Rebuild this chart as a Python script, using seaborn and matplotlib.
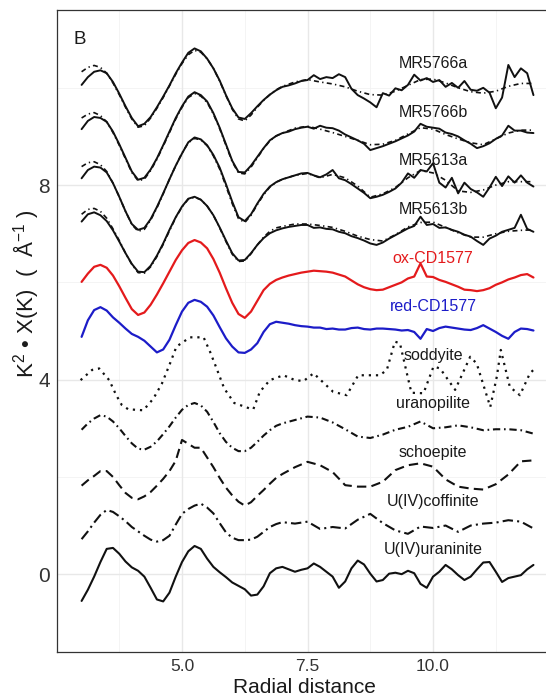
import numpy as np
import pandas as pd
import seaborn as sns
import matplotlib.pyplot as plt

# Radial distance grid for the smooth curves (fits and reference spectra)
k = [3.0, 3.125, 3.25, 3.375, 3.5, 3.625, 3.75, 3.875, 4.0, 4.125, 4.25, 4.375, 4.5,
     4.625, 4.75, 4.875, 5.0, 5.125, 5.25, 5.375, 5.5, 5.625, 5.75, 5.875, 6.0, 6.125,
     6.25, 6.375, 6.5, 6.625, 6.75, 6.875, 7.0,
     7.25, 7.5, 7.75, 8.0, 8.25, 8.5, 8.75, 9.0, 9.25, 9.5, 9.75, 10.0, 10.25, 10.5,
     10.75, 11.0, 11.25, 11.5, 11.75, 12.0]
# finer grid for the noisy measured spectra
k_fine = np.linspace(3.0, 12.0, 73)

mr5766a = [10.06, 10.22, 10.33, 10.36, 10.30, 10.12, 9.88, 9.62, 9.38, 9.21, 9.26, 9.40, 9.60,
           9.82, 10.05, 10.30, 10.52, 10.72, 10.81, 10.75, 10.60, 10.40, 10.15, 9.85, 9.58,
           9.39, 9.36, 9.48, 9.62, 9.75, 9.86, 9.95, 10.02,
           10.05, 10.09, 10.14, 10.16, 10.26, 10.18, 10.22, 10.20, 10.28, 10.22, 9.98, 9.85,
           9.78, 9.70, 9.60, 9.89, 9.84, 9.99, 9.95, 10.06, 10.27, 10.15, 10.20, 10.12,
           10.16, 10.02, 10.10, 10.00, 10.14, 9.96, 9.94, 10.00, 9.90, 9.58, 9.80, 10.47,
           10.22, 10.40, 10.30, 9.85]
fit5766a = [10.33, 10.42, 10.46, 10.42, 10.30, 10.10, 9.86, 9.60, 9.36, 9.19, 9.22, 9.38, 9.58,
            9.80, 10.04, 10.28, 10.50, 10.68, 10.77, 10.73, 10.60, 10.40, 10.14, 9.84, 9.56,
            9.36, 9.32, 9.44, 9.60, 9.74, 9.86, 9.96, 10.03,
            10.12, 10.17, 10.12, 10.08, 10.02, 9.93, 9.86, 9.85, 9.93, 10.05, 10.17, 10.18,
            10.10, 10.00, 9.92, 9.89, 9.93, 10.03, 10.09, 10.09]
mr5766b = [9.15, 9.32, 9.40, 9.38, 9.30, 9.10, 8.84, 8.56, 8.28, 8.11, 8.15, 8.32, 8.55,
           8.82, 9.10, 9.38, 9.62, 9.82, 9.91, 9.85, 9.72, 9.48, 9.18, 8.84, 8.50, 8.27,
           8.26, 8.40, 8.58, 8.76, 8.92, 9.01, 9.07,
           9.10, 9.15, 9.18, 9.20, 9.16, 9.22, 9.18, 9.17, 9.12, 9.04, 8.98, 8.92, 8.85,
           8.72, 8.76, 8.80, 8.85, 8.90, 8.96, 9.02, 9.10, 9.26, 9.20, 9.18, 9.16, 9.08,
           9.05, 9.00, 8.92, 8.85, 8.76, 8.80, 8.86, 8.95, 9.02, 9.22, 9.12, 9.12, 9.08, 9.07]
fit5766b = [9.38, 9.46, 9.49, 9.43, 9.30, 9.08, 8.82, 8.54, 8.26, 8.09, 8.12, 8.30, 8.53,
            8.80, 9.08, 9.36, 9.60, 9.80, 9.88, 9.83, 9.70, 9.46, 9.16, 8.82, 8.48, 8.25,
            8.23, 8.37, 8.56, 8.75, 8.91, 9.01, 9.07,
            9.17, 9.21, 9.15, 9.08, 9.00, 8.92, 8.83, 8.84, 8.92, 9.05, 9.18, 9.15, 9.04,
            8.95, 8.87, 8.83, 8.95, 9.07, 9.13, 9.13]
mr5613a = [8.14, 8.31, 8.38, 8.36, 8.26, 8.04, 7.76, 7.46, 7.20, 7.08, 7.12, 7.30, 7.55,
           7.83, 8.12, 8.40, 8.65, 8.88, 8.98, 8.94, 8.82, 8.62, 8.36, 8.02, 7.66, 7.34,
           7.26, 7.40, 7.62, 7.82, 7.97, 8.06, 8.12,
           8.16, 8.20, 8.24, 8.25, 8.20, 8.16, 8.22, 8.31, 8.14, 8.10, 8.02, 7.93, 7.84,
           7.73, 7.76, 7.80, 7.86, 7.93, 8.05, 8.24, 8.15, 8.31, 8.28, 8.45, 8.05, 7.95,
           8.15, 7.83, 8.05, 7.92, 7.85, 7.76, 7.95, 8.17, 7.98, 8.18, 8.05, 8.20, 8.05, 7.97]
fit5613a = [8.38, 8.46, 8.48, 8.42, 8.28, 8.04, 7.76, 7.46, 7.19, 7.05, 7.09, 7.28, 7.53,
            7.82, 8.12, 8.40, 8.66, 8.87, 8.96, 8.93, 8.81, 8.60, 8.33, 7.98, 7.62, 7.31,
            7.23, 7.38, 7.60, 7.80, 7.96, 8.06, 8.12,
            8.20, 8.24, 8.15, 8.22, 8.15, 7.98, 7.75, 7.82, 7.95, 8.15, 8.30, 8.25, 8.10,
            7.88, 7.85, 7.90, 8.00, 8.07, 8.07, 8.07]
mr5613b = [7.25, 7.40, 7.44, 7.38, 7.26, 7.07, 6.84, 6.60, 6.38, 6.22, 6.21, 6.34, 6.55,
           6.80, 7.08, 7.34, 7.56, 7.72, 7.76, 7.70, 7.57, 7.38, 7.13, 6.86, 6.60, 6.45,
           6.46, 6.60, 6.77, 6.91, 7.01, 7.07, 7.11,
           7.14, 7.16, 7.18, 7.18, 7.12, 7.13, 7.10, 7.09, 7.04, 7.01, 6.95, 6.91, 6.86,
           6.80, 6.77, 6.82, 6.90, 6.97, 7.04, 7.11, 7.16, 7.35, 7.18, 7.20, 7.12, 7.13,
           7.08, 7.04, 6.98, 6.94, 6.85, 6.77, 6.90, 6.96, 7.04, 7.08, 7.12, 7.39, 7.10, 7.04]
fit5613b = [7.40, 7.50, 7.52, 7.46, 7.32, 7.10, 6.86, 6.60, 6.37, 6.20, 6.19, 6.32, 6.53,
            6.78, 7.06, 7.33, 7.55, 7.71, 7.75, 7.70, 7.57, 7.38, 7.12, 6.84, 6.58, 6.43,
            6.44, 6.59, 6.77, 6.93, 7.05, 7.12, 7.15,
            7.20, 7.20, 7.17, 7.13, 7.05, 6.95, 6.88, 6.85, 6.98, 7.14, 7.23, 7.24, 7.13,
            7.02, 6.93, 6.93, 7.00, 7.05, 7.07, 7.08]
ox_cd1577 = [6.01, 6.18, 6.32, 6.36, 6.30, 6.14, 5.92, 5.68, 5.45, 5.33, 5.38, 5.54, 5.75,
             5.98, 6.22, 6.46, 6.66, 6.81, 6.87, 6.82, 6.70, 6.48, 6.20, 5.88, 5.58, 5.35,
             5.27, 5.40, 5.62, 5.84, 5.97, 6.05, 6.10,
             6.14, 6.17, 6.20, 6.22, 6.24, 6.23, 6.22, 6.20, 6.16, 6.12, 6.04, 5.96, 5.90,
             5.86, 5.84, 5.85, 5.90, 5.95, 6.00, 6.08, 6.12, 6.39, 6.12, 6.11, 6.05, 6.01,
             5.96, 5.91, 5.85, 5.84, 5.82, 5.84, 5.88, 5.95, 6.00, 6.06, 6.10, 6.15, 6.17, 6.10]
red_cd1577 = [4.88, 5.22, 5.43, 5.49, 5.42, 5.28, 5.17, 5.05, 4.94, 4.88, 4.80, 4.68, 4.56,
              4.62, 4.82, 5.12, 5.40, 5.58, 5.64, 5.60, 5.50, 5.32, 5.08, 4.85, 4.68, 4.56,
              4.55, 4.62, 4.75, 4.98, 5.14, 5.19, 5.17,
              5.15, 5.12, 5.10, 5.09, 5.07, 5.07, 5.04, 5.05, 5.03, 5.03, 5.06, 5.07, 5.04,
              5.03, 5.05, 5.05, 5.04, 5.03, 5.01, 5.02, 4.98, 4.84, 5.04, 5.00, 5.06, 5.09,
              5.07, 5.05, 5.03, 5.02, 5.06, 5.12, 5.05, 4.98, 4.90, 4.84, 4.98, 5.05, 5.04, 5.01]

# soddyite oscillates faster, read at its own points
k_soddyite = [2.98, 3.21, 3.35, 3.55, 3.69, 3.80, 3.93, 4.23, 4.43, 4.60, 4.76, 4.89, 5.16,
              5.43, 5.56, 5.70, 5.84, 6.04, 6.34, 6.42, 6.55, 6.75, 7.02, 7.25, 7.42, 7.62,
              8.01, 8.28, 8.51, 8.94, 9.08, 9.24, 9.34, 9.51, 9.57, 9.81, 10.01, 10.14,
              10.44, 10.74, 10.87, 11.14, 11.27, 11.35, 11.53, 11.73, 11.93, 12.0]
soddyite = [3.99, 4.20, 4.23, 3.99, 3.68, 3.48, 3.39, 3.37, 3.61, 3.92, 4.33, 4.68, 4.87,
            4.87, 4.57, 4.20, 3.82, 3.52, 3.41, 3.39, 3.75, 3.99, 4.09, 3.99, 3.97, 4.13,
            3.75, 3.68, 4.09, 4.09, 4.20, 4.78, 4.75, 3.99, 3.73, 3.72, 4.27, 4.23,
            3.79, 4.47, 4.33, 3.44, 4.06, 4.61, 3.85, 3.68, 4.13, 4.20]

uranopilite = [2.97, 3.10, 3.20, 3.27, 3.24, 3.14, 3.00, 2.84, 2.69, 2.58, 2.56, 2.62, 2.73,
               2.88, 3.04, 3.22, 3.38, 3.48, 3.52, 3.47, 3.34, 3.13, 2.90, 2.72, 2.60, 2.53,
               2.53, 2.60, 2.72, 2.85, 2.96, 3.05, 3.10,
               3.17, 3.24, 3.22, 3.12, 2.98, 2.83, 2.80, 2.87, 2.97, 3.03, 3.14, 3.00, 3.02,
               3.06, 3.02, 2.96, 2.98, 2.98, 2.96, 2.89]
schoepite = [1.82, 1.93, 2.02, 2.12, 2.12, 2.00, 1.83, 1.67, 1.57, 1.54, 1.60, 1.69, 1.82,
             1.96, 2.12, 2.33, 2.76, 2.68, 2.60, 2.60, 2.40, 2.20, 1.98, 1.78, 1.62, 1.49,
             1.41, 1.48, 1.61, 1.73, 1.86, 1.98, 2.06,
             2.20, 2.31, 2.24, 2.10, 1.83, 1.80, 1.80, 1.90, 2.14, 2.24, 2.28, 2.21, 1.95,
             1.80, 1.76, 1.74, 1.85, 2.05, 2.32, 2.34]
coffinite = [0.72, 0.88, 1.06, 1.22, 1.32, 1.28, 1.19, 1.09, 0.97, 0.88, 0.79, 0.71, 0.67,
             0.70, 0.79, 1.02, 1.24, 1.34, 1.41, 1.45, 1.37, 1.25, 1.05, 0.86, 0.75, 0.70,
             0.70, 0.71, 0.77, 0.87, 0.97, 1.03, 1.07,
             1.04, 1.08, 0.93, 0.97, 0.94, 1.12, 1.24, 1.05, 0.90, 0.83, 0.98, 0.95, 1.00,
             0.87, 1.00, 1.04, 1.06, 1.11, 1.08, 0.94]
uraninite = [-0.55, -0.32, -0.05, 0.25, 0.52, 0.54, 0.42, 0.26, 0.14, 0.07, -0.05, -0.28, -0.52,
             -0.56, -0.38, -0.05, 0.25, 0.47, 0.58, 0.52, 0.32, 0.15, 0.04, -0.06, -0.17, -0.24,
             -0.31, -0.44, -0.42, -0.25, 0.02, 0.12, 0.15,
             0.10, 0.05, 0.09, 0.12, 0.22, 0.15, 0.05, -0.05, -0.28, -0.15, 0.12, 0.28, 0.20,
             0.01, -0.15, -0.12, 0.01, 0.03, 0.00, 0.07, 0.02, -0.20, -0.28, -0.05, 0.05, 0.19,
             0.10, -0.02, -0.12, -0.05, 0.10, 0.24, 0.25, 0.05, -0.16, -0.08, -0.05, -0.02,
             0.10, 0.19]

labels = ["MR5766a", "MR5766b", "MR5613a", "MR5613b", "ox-CD1577", "red-CD1577",
          "soddyite", "uranopilite", "schoepite", "U(IV)coffinite", "U(IV)uraninite"]

fit_ls = (0, (3, 2, 0.8, 2))
# (x, y, colour, linestyle, width)
curves = [
    (k_fine, mr5766a, "#111111", "-", 1.4), (k, fit5766a, "#111111", fit_ls, 1.2),
    (k_fine, mr5766b, "#111111", "-", 1.4), (k, fit5766b, "#111111", fit_ls, 1.2),
    (k_fine, mr5613a, "#111111", "-", 1.4), (k, fit5613a, "#111111", fit_ls, 1.2),
    (k_fine, mr5613b, "#111111", "-", 1.4), (k, fit5613b, "#111111", fit_ls, 1.2),
    (k_fine, ox_cd1577, "#e41a1c", "-", 1.6),
    (k_fine, red_cd1577, "#1c1cc8", "-", 1.6),
    (k_soddyite, soddyite, "#111111", (0, (1, 2.2)), 1.6),
    (k, uranopilite, "#111111", (0, (3.5, 1.8, 0.8, 1.8)), 1.5),
    (k, schoepite, "#111111", (0, (4.5, 2.5)), 1.5),
    (k, coffinite, "#111111", (0, (5, 2, 1, 2)), 1.5),
    (k_fine, uraninite, "#111111", "-", 1.5),
]
label_colors = ["#1a1a1a"] * 4 + ["#e41a1c", "#1c1cc8"] + ["#1a1a1a"] * 5

sns.set_style("white")
plt.rcParams["font.family"] = ["Liberation Sans", "DejaVu Sans"]
plt.rcParams["mathtext.fontset"] = "custom"
plt.rcParams["mathtext.rm"] = "Liberation Sans"
plt.rcParams["mathtext.it"] = "Liberation Sans"

fig = plt.figure(figsize=(5.46, 6.97), dpi=100)
ax = fig.add_axes([57 / 546, 45 / 697, 489 / 546, 642 / 697])

# ggplot-like grid
for gx in [3.75, 6.25, 8.75, 11.25]:
    ax.axvline(gx, color="#f2f2f2", lw=0.6, zorder=0)
for gy in [2, 6, 10]:
    ax.axhline(gy, color="#f2f2f2", lw=0.6, zorder=0)
for gx in [5.0, 7.5, 10.0]:
    ax.axvline(gx, color="#e8e8e8", lw=1.0, zorder=0)
for gy in [0, 4, 8]:
    ax.axhline(gy, color="#e8e8e8", lw=1.0, zorder=0)

for xs, ys, col, ls, w in curves:
    sns.lineplot(x=xs, y=ys, ax=ax, color=col, linestyle=ls, lw=w,
                 estimator=None, errorbar=None, sort=False,
                 solid_joinstyle="round", dash_joinstyle="round")

for i, (lab, col) in enumerate(zip(labels, label_colors)):
    ax.text(10.0, 10.5 - i, lab, color=col, fontsize=11.5, ha="center", va="center")

ax.text(2.83, 11.0, "B", fontsize=13.5, ha="left", va="center", color="#1a1a1a")

ax.set_xlim(2.51, 12.25)
ax.set_ylim(-1.6, 11.6)
ax.set_xticks([5.0, 7.5, 10.0])
ax.set_xticklabels(["5.0", "7.5", "10.0"])
ax.set_yticks([0, 4, 8])
ax.tick_params(axis="x", labelsize=12.5, length=3, width=0.8, color="#333333",
               labelcolor="#333333", pad=2)
ax.tick_params(axis="y", labelsize=15, length=3, width=0.8, color="#333333",
               labelcolor="#333333", pad=2)
for side in ["left", "bottom", "top"]:
    ax.spines[side].set_color("#333333")
    ax.spines[side].set_linewidth(0.9)
ax.spines["right"].set_visible(False)

ax.set_xlabel("Radial distance", fontsize=15, color="#1a1a1a")
ax.set_ylabel("K$^2$ • X(K)  (  Å$^{-1}$ )", fontsize=16, color="#1a1a1a")
ax.xaxis.set_label_coords(0.505, -0.041)
ax.yaxis.set_label_coords(-0.033, 0.558)

fig.savefig("out.png", dpi=100)
